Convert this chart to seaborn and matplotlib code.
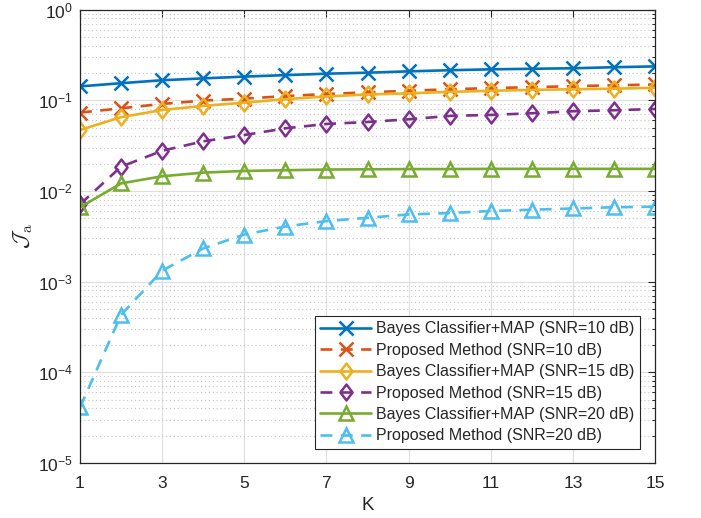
import numpy as np
import pandas as pd
import seaborn as sns
import matplotlib
matplotlib.use("Agg")
import matplotlib.pyplot as plt
from matplotlib.path import Path
from matplotlib.ticker import LogLocator, NullFormatter

# values
K = np.arange(1, 16)
bayes_10 = [0.142, 0.154, 0.166, 0.174, 0.182, 0.189, 0.196, 0.201, 0.208, 0.214, 0.219, 0.222, 0.225, 0.231, 0.236]
proposed_10 = [0.073, 0.0815, 0.091, 0.099, 0.104, 0.111, 0.117, 0.122, 0.127, 0.132, 0.136, 0.139, 0.143, 0.146, 0.149]
bayes_15 = [0.047, 0.065, 0.078, 0.0865, 0.094, 0.1026, 0.11, 0.1156, 0.119, 0.1236, 0.127, 0.130, 0.132, 0.134, 0.137]
proposed_15 = [0.0071, 0.0185, 0.0277, 0.0352, 0.0413, 0.049, 0.0547, 0.0575, 0.0616, 0.0671, 0.0688, 0.0718, 0.0755, 0.0775, 0.0800]
bayes_20 = [0.0066, 0.0121, 0.0145, 0.0159, 0.0166, 0.0169, 0.0172, 0.0173, 0.0174, 0.0174, 0.0175, 0.0175, 0.0175, 0.0175, 0.0175]
proposed_20 = [4.1e-5, 4.3e-4, 1.32e-3, 2.32e-3, 3.3e-3, 4.05e-3, 4.65e-3, 5.05e-3, 5.5e-3, 5.7e-3, 6.0e-3, 6.2e-3, 6.4e-3, 6.6e-3, 6.7e-3]

labels = [
    "Bayes Classifier+MAP (SNR=10 dB)",
    "Proposed Method (SNR=10 dB)",
    "Bayes Classifier+MAP (SNR=15 dB)",
    "Proposed Method (SNR=15 dB)",
    "Bayes Classifier+MAP (SNR=20 dB)",
    "Proposed Method (SNR=20 dB)",
]
series = [bayes_10, proposed_10, bayes_15, proposed_15, bayes_20, proposed_20]
colors = ["#0072BD", "#D95319", "#EDB120", "#7E2F8E", "#77AC30", "#4DBEEE"]

# matlab-like diamond (wider than matplotlib's thin diamond)
diamond = Path([(0, 1), (0.76, 0), (0, -1), (-0.76, 0), (0, 1)],
               [Path.MOVETO, Path.LINETO, Path.LINETO, Path.LINETO, Path.CLOSEPOLY])
markers = ["x", "x", diamond, diamond, "^", "^"]
msizes = [9.5, 9.5, 11.5, 11.5, 10.5, 10.5]
dashed = [False, True, False, True, False, True]

sns.set_theme(style="white")
plt.rcParams["font.family"] = ["Liberation Sans", "DejaVu Sans"]
plt.rcParams["mathtext.fontset"] = "cm"

fig = plt.figure(figsize=(7.01, 5.18), dpi=100)
ax = fig.add_axes([80 / 701, 55 / 518, 575 / 701, 453.5 / 518])

for vals, lab, col, mk, ms, dsh in zip(series, labels, colors, markers, msizes, dashed):
    df = pd.DataFrame({"K": K, "J": vals})
    sns.lineplot(data=df, x="K", y="J", ax=ax, color=col, label=lab,
                 linewidth=1.9, marker=mk, markersize=ms,
                 markerfacecolor="none", markeredgecolor=col, markeredgewidth=1.8)
    if dsh:
        ax.lines[-1].set_dashes((4.5, 3.2))

ax.set_yscale("log")
ax.set_xlim(1, 15)
ax.set_ylim(1e-5, 1)
ax.set_xticks(np.arange(1, 16, 2))
ax.yaxis.set_major_locator(LogLocator(base=10, numticks=10))
ax.yaxis.set_minor_locator(LogLocator(base=10, subs=np.arange(2, 10), numticks=20))
ax.yaxis.set_minor_formatter(NullFormatter())

ax.grid(True, which="major", color="#dedede", linewidth=0.8, linestyle="-")
ax.grid(True, which="minor", axis="y", color="#c4c4c4", linewidth=0.8, linestyle=(0, (1, 2.5)))
ax.set_axisbelow(True)

ax.tick_params(which="both", direction="in", top=True, right=True, colors="#262626",
               labelsize=12.5, labelcolor="#262626", pad=5)
ax.tick_params(axis="x", pad=9.5)
ax.tick_params(which="major", length=5, width=0.8)
ax.tick_params(which="minor", length=2.5, width=0.7)
ax.tick_params(axis="x", which="minor", top=False, bottom=False)
for sp in ax.spines.values():
    sp.set_color("#262626")
    sp.set_linewidth(0.9)

ax.set_xlabel("K", fontsize=13.5, color="#262626")
ax.xaxis.set_label_coords(0.5, -0.075)
ax.set_ylabel(r"$\mathcal{J}_\mathrm{a}$", fontsize=16, color="#262626")
ax.yaxis.set_label_coords(-0.078, 0.5)

leg = ax.legend(loc="lower right", bbox_to_anchor=(0.974, 0.031), borderaxespad=0,
                fontsize=11.5, frameon=True, fancybox=False, framealpha=1,
                edgecolor="#262626", handlelength=3.2, handletextpad=0.3,
                labelspacing=0.4, borderpad=0.35)
leg.get_frame().set_linewidth(0.8)

plt.savefig("out.png", dpi=100)
plt.close()
